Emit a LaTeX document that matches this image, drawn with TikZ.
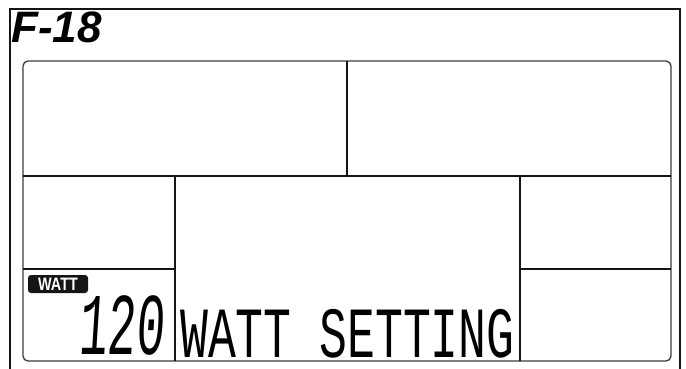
\documentclass[tikz,border=0pt]{standalone}
\usepackage{fontspec}
\setmainfont{Liberation Sans}
\newfontfamily\lcdfont[FakeSlant=0.12]{Liberation Mono}
\newfontfamily\segfont{Liberation Mono}
\usetikzlibrary{positioning}
\definecolor{ink}{HTML}{151515}
\definecolor{panel}{HTML}{3C3C3C}
\tikzset{
  framebox/.style={draw=ink, line width=2pt},
  panelbox/.style={draw=panel, line width=1.3pt, rounded corners=5pt},
  divider/.style={draw=ink, line width=2.2pt},
  modelname/.style={inner sep=0pt, anchor=base west, text depth=0pt, font=\fontsize{44}{44}\selectfont\bfseries\itshape},
  badge/.style={fill=ink, text=white, rounded corners=3pt, inner sep=0pt, minimum width=60pt, minimum height=18pt, font=\fontsize{18}{18}\selectfont\bfseries},
  bignum/.style={inner sep=0pt, anchor=base east, text depth=0pt, font=\fontsize{88}{88}\selectfont\lcdfont},
  msgtext/.style={inner sep=0pt, anchor=base west, text depth=0pt, font=\fontsize{72}{72}\selectfont\segfont}
}

\begin{document}
\begin{tikzpicture}[x=1pt, y=-1pt]
  \useasboundingbox (0,0) rectangle (686,369);
  % outer frame, open at the bottom
  \draw[framebox] (10,369) -- (10,9) -- (680,9) -- (680,369);
  \node[modelname] (model) at (11,43) {F-18};
  % display panel
  \draw[panelbox] (23,61) rectangle (671,361);
  \coordinate (midtop) at (347,61);
  \coordinate (rowleft) at (23,176);
  \coordinate (rowright) at (671,176);
  \draw[divider] (rowleft) -- (rowright);
  \draw[divider] (midtop) -- (midtop |- rowleft);
  \coordinate (leftcol) at (175,176);
  \coordinate (rightcol) at (520,176);
  \draw[divider] (leftcol) -- (175,361);
  \draw[divider] (rightcol) -- (520,361);
  \draw[divider] (23,269) -- (leftcol |- 0,269);
  \draw[divider] (rightcol |- 0,269) -- (671,269);
  % readings
  \node[badge] (unit) at (58,284) {\scalebox{0.8}[1]{WATT}};
  \node[bignum] (value) at (164,354) {\scalebox{0.54}[1]{120}};
  \node[msgtext] (message) at (180,357) {\scalebox{0.645}[1]{WATT SETTING}};
\end{tikzpicture}
\end{document}
